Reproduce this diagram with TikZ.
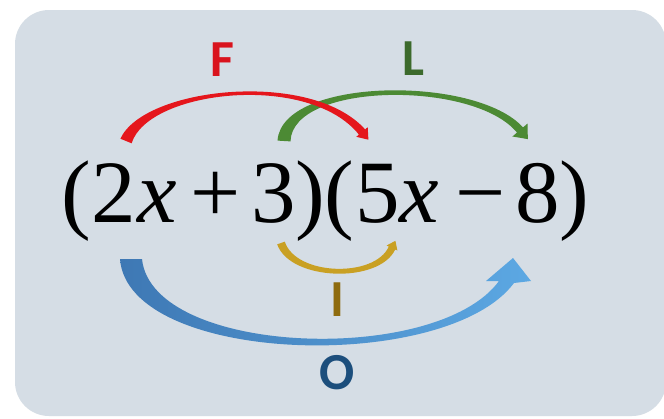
\documentclass[tikz,border=0pt]{standalone}
\usepackage{fontspec}
\setmainfont{Liberation Serif}
\newfontfamily\labfont{Carlito}
\definecolor{bgbox}{HTML}{D5DDE5}
\definecolor{redarc}{HTML}{E5161C}
\definecolor{redtxt}{HTML}{D9131D}
\definecolor{greenarc}{HTML}{4C8A34}
\definecolor{greentxt}{HTML}{3C6A2C}
\definecolor{goldarc}{HTML}{C9A023}
\definecolor{goldtxt}{HTML}{8E6B0E}
\definecolor{bluedark}{HTML}{3E78B4}
\definecolor{bluelight}{HTML}{5CA8E3}
\definecolor{bluetxt}{HTML}{1C4E7C}
\begin{document}
\begin{tikzpicture}[x=1pt,y=-1pt,
  lab/.style={font=\labfont\bfseries\fontsize{52}{52}\selectfont, inner sep=0pt, anchor=center},
  formula/.style={font=\fontsize{89}{89}\selectfont, inner sep=0pt, anchor=base west}]
\useasboundingbox (0,0) rectangle (664,418);
\fill[white] (0,0) rectangle (664,418);
\fill[bgbox, rounded corners=34pt] (15,10) rectangle (666,416);

% formula
\node[formula] (expr) at (61,222) {(\hspace{1pt}2\hspace{1pt}\textit{x}\hspace{14pt}+\hspace{11pt}3\hspace{-1pt})\hspace{-1pt}(\hspace{2pt}5\hspace{-1pt}\textit{x}\hspace{17pt}−\hspace{10pt}8\hspace{-1pt})};

% letters
\node[lab, text=redtxt] (F) at (222,60) {F};
\node[lab, text=greentxt] (L) at (413,59) {L};
\node[lab, text=goldtxt] (I) at (337,300) {I};
\node[lab, text=bluetxt] (O) at (337,373) {O};

% green L arc
\fill[greenarc] (277.5,140.6) .. controls (282,77) and (476,75) .. (523,127.4)
  -- (527.6,123.5) -- (527.8,139.1) -- (512.4,136.5) -- (517,132.6)
  .. controls (474,80) and (292,82) .. (290.5,141.4) -- cycle;

% red F arc
\fill[redarc] (120.4,138.7) .. controls (144,87) and (311,69) .. (365.1,129.4)
  -- (367.7,127.2) -- (368.4,139.7) -- (356.3,136.8) -- (358.9,134.6)
  .. controls (309,72) and (148,90) .. (131.6,143.3) -- cycle;

% gold I arc
\fill[goldarc] (277.2,244.3) .. controls (290,281) and (379,284) .. (395.2,249.5)
  -- (397.4,250.5) -- (395.4,240.8) -- (386.6,245.5) -- (388.8,246.5)
  .. controls (375,278) and (296,276) .. (284.8,241.7) -- cycle;

% blue O arc
\shade[left color=bluedark, right color=bluelight]
  (120,259) .. controls (128,365) and (446,374) .. (514,283)
  -- (531,281) -- (513,258) -- (486,281) -- (499,281)
  .. controls (437,366) and (152,356) .. (142,259) -- cycle;
\end{tikzpicture}
\end{document}
